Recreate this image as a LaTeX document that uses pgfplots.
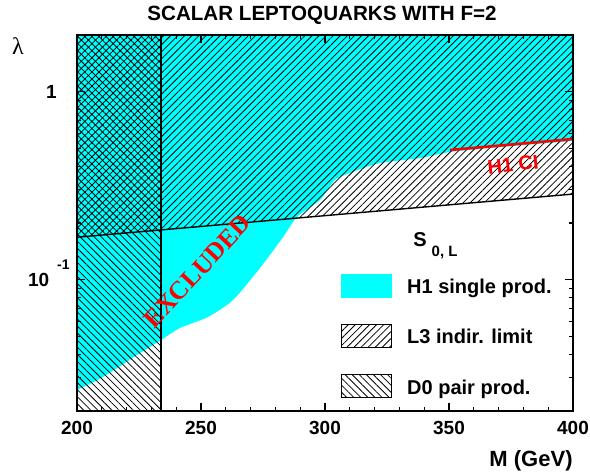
\documentclass[border=0pt]{standalone}
\usepackage{pgfplots}
\pgfplotsset{compat=1.18}
\usepackage{fontspec}
\setmainfont{Liberation Sans}
\newfontfamily\serif{Liberation Serif}
\usetikzlibrary{patterns.meta,calc}

\definecolor{hcyan}{RGB}{0,255,255}

% hatch styles
\tikzset{
  l3hatch/.style={pattern={Lines[angle=45,distance=2.5pt,line width=0.4pt]}},
  d0hatch/.style={pattern={Lines[angle=-45,distance=2.5pt,line width=0.4pt]}},
}

\begin{document}
\begin{tikzpicture}
\begin{axis}[
  scale only axis, width=248pt, height=188pt,
  xmin=200, xmax=400, ymode=log, ymin=0.02, ymax=2,
  axis on top, clip mode=individual,
  axis line style={line width=0.9pt},
  xtick={200,250,300,350,400}, minor x tick num=4,
  ytick={0.1,1},
  yticklabels={10\kern4pt\raisebox{8.5pt}{\fontsize{7}{8}\selectfont -1},1\rule{6.5pt}{0pt}},
  minor ytick={0.03,0.04,0.05,0.06,0.07,0.08,0.09,0.2,0.3,0.4,0.5,0.6,0.7,0.8,0.9},
  tick style={line width=0.6pt, black},
  major tick length=4pt, minor tick length=2pt,
  /pgf/number format/assume math mode=true,
  ticklabel style={font=\bfseries\fontsize{9.5}{11}\selectfont, inner sep=0pt},
  xticklabel style={anchor=base, yshift=-12pt},
  yticklabel style={anchor=base east, xshift=-3.5pt, yshift=-3.5pt},
  xlabel={M (GeV)},
  xlabel style={at={(1,0)}, anchor=base east, yshift=-28pt, inner sep=0pt,
    font=\bfseries\fontsize{11}{13}\selectfont},
  legend style={draw=none, fill=none, at={(0.5323,0.034)}, anchor=south west,
    inner sep=0pt, outer sep=0pt, row sep=13pt, column sep=7.5pt,
    cells={anchor=base west}, nodes={inner sep=0pt, text depth=0pt},
    font=\bfseries\fontsize{10}{12}\selectfont},
]

% H1 single production exclusion (end points lie outside the frame)
\addplot[fill=hcyan, draw=none, smooth, tension=0.4, forget plot] coordinates {
  (185,3) (185,0.0212) (190,0.0227) (200,0.02587) (210.5,0.03033)
  (224.2,0.03971) (233.9,0.04773)
  (241.5,0.05527) (252.8,0.06324) (262.9,0.07788) (273.8,0.1153)
  (283.1,0.1684) (288.7,0.2153) (298.0,0.2651) (304.0,0.3387)
  (312.1,0.3781) (322.2,0.4171) (338.3,0.4433) (350.4,0.4773)
  (366.5,0.5011) (400,0.5461) (410,0.557) (415,0.562) (415,3)
};

% D0 pair production
\addplot[draw=none, d0hatch, forget plot] coordinates {
  (200,0.02) (234,0.02) (234,2) (200,2)
};

% L3 indirect limit
\addplot[draw=none, l3hatch, forget plot] coordinates {
  (200,0.168) (400,0.285) (400,2) (200,2)
};

\addplot[black, line width=0.7pt, forget plot] coordinates {(200,0.168) (400,0.285)};
\addplot[black, line width=0.9pt, forget plot] coordinates {(234,0.02) (234,2)};
\addplot[red, line width=1.3pt, forget plot] coordinates {(350.4,0.489) (400,0.5596)};

\addlegendimage{legend image code/.code={\fill[hcyan] (0pt,-1.75pt) rectangle (25pt,9.75pt);}}
\addlegendentry{H1 single prod.}
\addlegendimage{legend image code/.code={\draw[black, line width=0.6pt, l3hatch] (0pt,-1.75pt) rectangle (25pt,9.75pt);}}
\addlegendentry{L3 indir. limit}
\addlegendimage{legend image code/.code={\draw[black, line width=0.6pt, d0hatch] (0pt,-1.75pt) rectangle (25pt,9.75pt);}}
\addlegendentry{D0 pair prod.}

\node[rotate=47, text=red, font=\serif\bfseries\fontsize{12.8}{15}\selectfont]
  at (rel axis cs:0.243,0.372) {EXCLUDED};
\node[rotate=6, text=red, font=\bfseries\fontsize{10}{12}\selectfont]
  at (rel axis cs:0.879,0.655) {H1 CI};
\node[anchor=base west, inner sep=0pt, font=\bfseries\fontsize{10}{12}\selectfont]
  at (rel axis cs:0.6774,0.4388) {S\hspace{2.5pt}\raisebox{-5pt}{\fontsize{7.5}{9}\selectfont 0, L}};
\node[font=\serif\fontsize{12}{14}\selectfont] at (rel axis cs:0,1) [xshift=-29.5pt, yshift=-5.5pt] {\symbol{"03BB}};
\node[anchor=base, inner sep=0pt, font=\bfseries\fontsize{10.3}{12}\selectfont]
  at (rel axis cs:0.494,1) [yshift=7.2pt] {SCALAR LEPTOQUARKS WITH F=2};

\coordinate (sw) at (rel axis cs:0,0);
\coordinate (ne) at (rel axis cs:1,1);
\end{axis}
\pgfresetboundingbox
\path[use as bounding box] ($(sw)+(-38.5pt,-32pt)$) rectangle ($(ne)+(8.5pt,17.5pt)$);
\end{tikzpicture}
\end{document}
